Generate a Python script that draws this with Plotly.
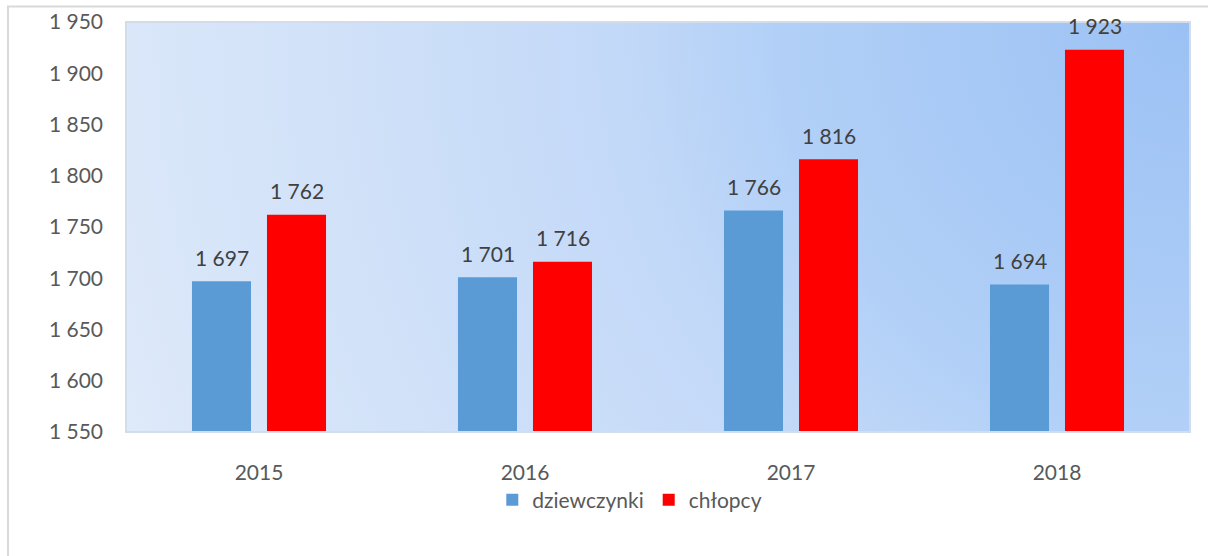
import base64
import plotly.graph_objects as go

years = ["2015", "2016", "2017", "2018"]
girls = [1697, 1701, 1766, 1694]
boys = [1762, 1716, 1816, 1923]
series_names = ["dziewczynki", "chłopcy"]
y_ticks = [1550, 1600, 1650, 1700, 1750, 1800, 1850, 1900, 1950]

W, H = 1208, 556
L, R, T, B = 126, 18, 22, 124
pw, ph = W - L - R, H - T - B

FONT = "Lato, 'Open Sans', sans-serif"

svg = f'''<svg xmlns="http://www.w3.org/2000/svg" width="{pw}" height="{ph}" viewBox="0 0 {pw} {ph}" preserveAspectRatio="none">
<defs><radialGradient id="g" gradientUnits="userSpaceOnUse" cx="{pw}" cy="0" r="1150">
<stop offset="0" stop-color="#9bc1f4"/>
<stop offset="0.36" stop-color="#b2d0f7"/>
<stop offset="0.5" stop-color="#c3d9f8"/>
<stop offset="0.92" stop-color="#dae7f9"/>
<stop offset="1" stop-color="#dfeafa"/>
</radialGradient></defs>
<rect x="0" y="0" width="{pw}" height="{ph}" fill="url(#g)"/>
</svg>'''
bg_uri = "data:image/svg+xml;base64," + base64.b64encode(svg.encode()).decode()

fig = go.Figure()
fig.add_trace(go.Bar(x=years, y=girls, name=series_names[0],
                     marker=dict(color="#5b9bd5", line=dict(width=0))))
fig.add_trace(go.Bar(x=years, y=boys, name=series_names[1],
                     marker=dict(color="#ff0000", line=dict(width=0))))

def fmt(v):
    return f"{v:,}".replace(",", " ")

annotations = []
for series, shift in ((girls, -37.5), (boys, 37.5)):
    for i, v in enumerate(series):
        annotations.append(dict(x=i, y=v, xref="x", yref="y", text=fmt(v),
                                showarrow=False, xshift=shift, yshift=24,
                                yanchor="middle",
                                font=dict(family=FONT, size=21, color="#404040")))

fig.update_layout(
    width=W, height=H,
    margin=dict(l=L, r=R, t=T, b=B, autoexpand=False),
    paper_bgcolor="white",
    plot_bgcolor="rgba(0,0,0,0)",
    separators=". ",
    barmode="group",
    bargap=0.436,
    bargroupgap=0.213,
    font=dict(family=FONT, size=21, color="#595959"),
    xaxis=dict(type="category", range=[-0.5, 3.5], showgrid=False,
               showline=False, zeroline=False, automargin=False,
               ticks="", ticklabelstandoff=26,
               tickfont=dict(family=FONT, size=21, color="#595959")),
    yaxis=dict(range=[1550, 1950], tickvals=y_ticks, tickformat=",d",
               showgrid=False, zeroline=False, showline=False, ticks="",
               automargin=False, ticklabelstandoff=22,
               tickfont=dict(family=FONT, size=21, color="#595959")),
    legend=dict(orientation="h", x=0.4735, xanchor="center", y=-0.166,
                yanchor="middle", font=dict(family=FONT, size=21, color="#595959"),
                itemwidth=30, tracegroupgap=0, bgcolor="rgba(0,0,0,0)"),
    images=[dict(source=bg_uri, xref="paper", yref="paper", x=0, y=1,
                 sizex=1, sizey=1, sizing="stretch", xanchor="left",
                 yanchor="top", layer="below")],
    shapes=[
        dict(type="rect", xref="paper", yref="paper", x0=0, x1=1, y0=0, y1=1,
             line=dict(color="#d3ddea", width=2), fillcolor="rgba(0,0,0,0)",
             layer="above"),
        dict(type="rect", xref="paper", yref="paper",
             x0=(8 - L) / pw, x1=(W + 10 - L) / pw,
             y0=-(H + 10 - (H - B)) / ph, y1=(H - B - 6.5) / ph,
             line=dict(color="#d9d9d9", width=2), fillcolor="rgba(0,0,0,0)"),
    ],
    annotations=annotations,
)

fig.write_html(
    "out.html",
    config={"displayModeBar": False},
    post_script="document.body.style.margin='0';document.body.style.overflow='hidden';",
)
